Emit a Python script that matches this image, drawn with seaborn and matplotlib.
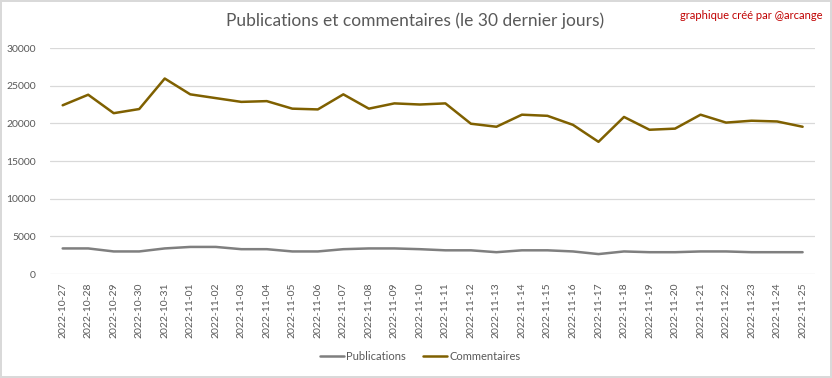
import pandas as pd
import matplotlib.pyplot as plt
import seaborn as sns

dates = [
    "2022-10-27", "2022-10-28", "2022-10-29", "2022-10-30", "2022-10-31",
    "2022-11-01", "2022-11-02", "2022-11-03", "2022-11-04", "2022-11-05",
    "2022-11-06", "2022-11-07", "2022-11-08", "2022-11-09", "2022-11-10",
    "2022-11-11", "2022-11-12", "2022-11-13", "2022-11-14", "2022-11-15",
    "2022-11-16", "2022-11-17", "2022-11-18", "2022-11-19", "2022-11-20",
    "2022-11-21", "2022-11-22", "2022-11-23", "2022-11-24", "2022-11-25",
]
publications = [
    3400, 3400, 3000, 3000, 3400, 3600, 3600, 3300, 3300, 3000,
    3000, 3300, 3400, 3400, 3300, 3150, 3150, 2900, 3150, 3150,
    3000, 2650, 3000, 2900, 2900, 3000, 3000, 2900, 2900, 2900,
]
commentaires = [
    22400, 23800, 21350, 21900, 25950, 23850, 23350, 22850, 22950, 21950,
    21850, 23850, 21950, 22650, 22500, 22650, 19950, 19550, 21150, 21000,
    19800, 17550, 20850, 19150, 19300, 21150, 20100, 20350, 20250, 19550,
]

df = pd.DataFrame({"date": dates, "Publications": publications, "Commentaires": commentaires})
long = df.melt(id_vars="date", var_name="serie", value_name="valeur")

sns.set_style("white")
plt.rcParams["font.family"] = ["Lato", "DejaVu Sans"]

grey_txt = "#595959"
fig = plt.figure(figsize=(8.32, 3.78), dpi=100)
fig.patch.set_edgecolor("#d9d9d9")
fig.patch.set_linewidth(1.5)
ax = fig.add_axes([0.060, 0.275, 0.920, 0.598])

sns.lineplot(
    data=long, x="date", y="valeur", hue="serie", ax=ax,
    palette={"Publications": "#7f7f7f", "Commentaires": "#7f6000"},
    linewidth=1.8, sort=False,
)

ax.set_ylim(0, 30000)
ax.set_yticks(range(0, 30001, 5000))
ax.set_xlim(-0.5, len(dates) - 0.5)
ax.grid(axis="y", color="#d9d9d9", linewidth=0.9)
ax.set_axisbelow(True)
for s in ax.spines.values():
    s.set_visible(False)
ax.tick_params(axis="both", length=0, labelsize=7.5, labelcolor=grey_txt)
ax.tick_params(axis="y", pad=10)
ax.tick_params(axis="x", pad=6)
plt.setp(ax.get_xticklabels(), rotation=90)
ax.set_xlabel("")
ax.set_ylabel("")

handles, labels = ax.get_legend_handles_labels()
ax.get_legend().remove()
fig.legend(handles, labels, loc="center", bbox_to_anchor=(0.505, 0.056), ncol=2,
           frameon=False, fontsize=8, labelcolor=grey_txt, handlelength=2.2,
           handletextpad=0.2, columnspacing=1.5)

fig.text(0.499, 0.945, "Publications et commentaires (le 30 dernier jours)",
         ha="center", va="center", fontsize=12.5, color=grey_txt)
fig.text(0.988, 0.958, "graphique créé par @arcange", ha="right", va="center",
         fontsize=8, color="#c00000")

fig.savefig("out.png", dpi=100, edgecolor=fig.get_edgecolor())
